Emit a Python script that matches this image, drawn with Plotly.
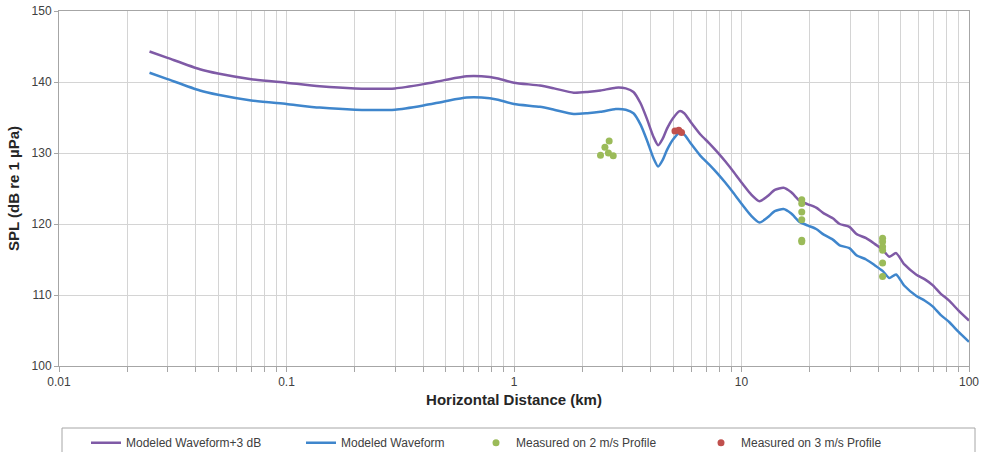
import plotly.graph_objects as go

# ---- data ----
dist_model = [0.025, 0.03, 0.0416, 0.05, 0.07, 0.1, 0.14, 0.2, 0.3, 0.4, 0.5, 0.62, 0.72, 0.85,
              1.0, 1.3, 1.5, 1.83, 2.1, 2.4, 2.8, 3.1, 3.35, 3.6, 3.84, 4.1, 4.3, 4.5, 4.7,
              5.0, 5.35, 5.6, 6.0, 6.6, 7.2, 7.8, 8.5, 9.2, 10.2, 11.0, 12.0, 13.0, 14.0,
              15.3, 16.5, 18.0, 19.5, 21.3, 23.0, 25.2, 27.0, 29.8, 32.0, 35.3, 38.5, 41.7,
              44.6, 47.8, 52.0, 58.5, 64.0, 69.2, 75.0, 81.8, 90.0, 100.0]
spl_model = [141.3, 140.4, 138.8, 138.2, 137.4, 136.9, 136.4, 136.1, 136.1, 136.7, 137.3, 137.8,
             137.8, 137.5, 136.9, 136.5, 136.1, 135.5, 135.6, 135.8, 136.2, 136.1, 135.6, 134.0,
             131.8, 129.3, 128.1, 129.0, 130.4, 131.9, 132.9, 132.6, 131.3, 129.6, 128.4, 127.2,
             125.8, 124.4, 122.5, 121.2, 120.2, 120.9, 121.8, 122.1, 121.5, 120.3, 119.8, 119.3,
             118.5, 117.8, 117.0, 116.6, 115.6, 115.0, 114.2, 113.4, 112.4, 112.9, 111.3, 109.9,
             109.2, 108.4, 107.2, 106.2, 104.8, 103.4]
spl_model_plus3 = [144.3, 143.4, 141.8, 141.2, 140.4, 139.9, 139.4, 139.1, 139.1, 139.7, 140.3, 140.8,
                   140.8, 140.5, 139.9, 139.5, 139.1, 138.5, 138.6, 138.8, 139.2, 139.1, 138.6, 137.0,
                   134.8, 132.3, 131.1, 132.0, 133.4, 134.9, 135.9, 135.6, 134.3, 132.6, 131.4, 130.2,
                   128.8, 127.4, 125.5, 124.2, 123.2, 123.9, 124.8, 125.1, 124.5, 123.3, 122.8, 122.3,
                   121.5, 120.8, 120.0, 119.6, 118.6, 118.0, 117.2, 116.4, 115.4, 115.9, 114.3, 112.9,
                   112.2, 111.4, 110.2, 109.2, 107.8, 106.4]

dist_2ms = [2.40, 2.51, 2.62, 2.60, 2.73,
            18.4, 18.4, 18.4, 18.4, 18.4, 18.4,
            41.7, 41.7, 41.7, 41.7, 41.7, 41.7]
spl_2ms = [129.7, 130.8, 131.7, 130.0, 129.6,
           123.4, 122.9, 121.7, 120.6, 117.7, 117.5,
           118.0, 117.5, 116.8, 116.3, 114.5, 112.6]

dist_3ms = [5.1, 5.3, 5.45]
spl_3ms = [133.1, 133.2, 132.9]

y_ticks = [100, 110, 120, 130, 140, 150]

PURPLE = "#7F5AA6"
BLUE = "#3F86CC"
GREEN = "#9BBB59"
RED = "#C0504D"
FONT = "Liberation Sans, Arial, sans-serif"

# log grid tick values (all 1..9 multiples)
tickvals = []
ticktext = []
for dec in [0.01, 0.1, 1, 10]:
    for m in range(1, 10):
        v = round(dec * m, 6)
        tickvals.append(v)
        ticktext.append(("%g" % v) if m == 1 else "")
tickvals.append(100)
ticktext.append("100")

fig = go.Figure()
fig.add_trace(go.Scatter(x=dist_model, y=spl_model_plus3, mode="lines",
                         name="Modeled Waveform+3 dB", legend="legend",
                         line=dict(color=PURPLE, width=2.5, shape="spline", smoothing=0.6)))
fig.add_trace(go.Scatter(x=dist_model, y=spl_model, mode="lines",
                         name="Modeled Waveform", legend="legend2",
                         line=dict(color=BLUE, width=2.5, shape="spline", smoothing=0.6)))
fig.add_trace(go.Scatter(x=dist_2ms, y=spl_2ms, mode="markers",
                         name="Measured on 2 m/s Profile", legend="legend3",
                         marker=dict(color=GREEN, size=7)))
fig.add_trace(go.Scatter(x=dist_3ms, y=spl_3ms, mode="markers",
                         name="Measured on 3 m/s Profile", legend="legend4",
                         marker=dict(color=RED, size=7)))


def leg(px):
    return dict(orientation="h", x=(px - 59) / 910, xanchor="left", y=-0.175, yanchor="top",
                font=dict(family=FONT, size=12, color="#404040"),
                bgcolor="rgba(0,0,0,0)", borderwidth=0, itemwidth=30)


fig.update_layout(
    width=981, height=452,
    margin=dict(l=59, r=12, t=11, b=86, autoexpand=False),
    paper_bgcolor="white", plot_bgcolor="white",
    font=dict(family=FONT, size=12, color="#404040"),
    showlegend=True,
    legend=leg(86), legend2=leg(301), legend3=leg(476), legend4=leg(701),
    shapes=[dict(type="rect", xref="paper", yref="paper",
                 x0=(62 - 59) / 910, x1=(975 - 59) / 910,
                 y0=(366 - 455) / 355, y1=(366 - 428) / 355,
                 line=dict(color="#a6a6a6", width=1), fillcolor="rgba(0,0,0,0)")],
)

fig.update_xaxes(type="log", range=[-2, 2],
                 tickmode="array", tickvals=tickvals, ticktext=ticktext,
                 showgrid=True, gridcolor="#d4d4d4", gridwidth=1,
                 ticks="outside", ticklen=5, tickcolor="#a6a6a6",
                 showline=True, linecolor="#a6a6a6", mirror=True,
                 tickfont=dict(size=12, color="#404040"),
                 title=dict(text="<b>Horizontal Distance (km)</b>", font=dict(size=15, color="#262626"),
                            standoff=6),
                 zeroline=False)
fig.update_yaxes(range=[100, 150], tickvals=y_ticks,
                 showgrid=True, gridcolor="#d4d4d4", gridwidth=1,
                 ticks="outside", ticklen=4, tickcolor="#a6a6a6",
                 showline=True, linecolor="#a6a6a6", mirror=True,
                 tickfont=dict(size=12, color="#404040"),
                 title=dict(text="<b>SPL (dB re 1 µPa)</b>", font=dict(size=15, color="#262626"),
                            standoff=8),
                 zeroline=False)

fig.write_html("out.html")
